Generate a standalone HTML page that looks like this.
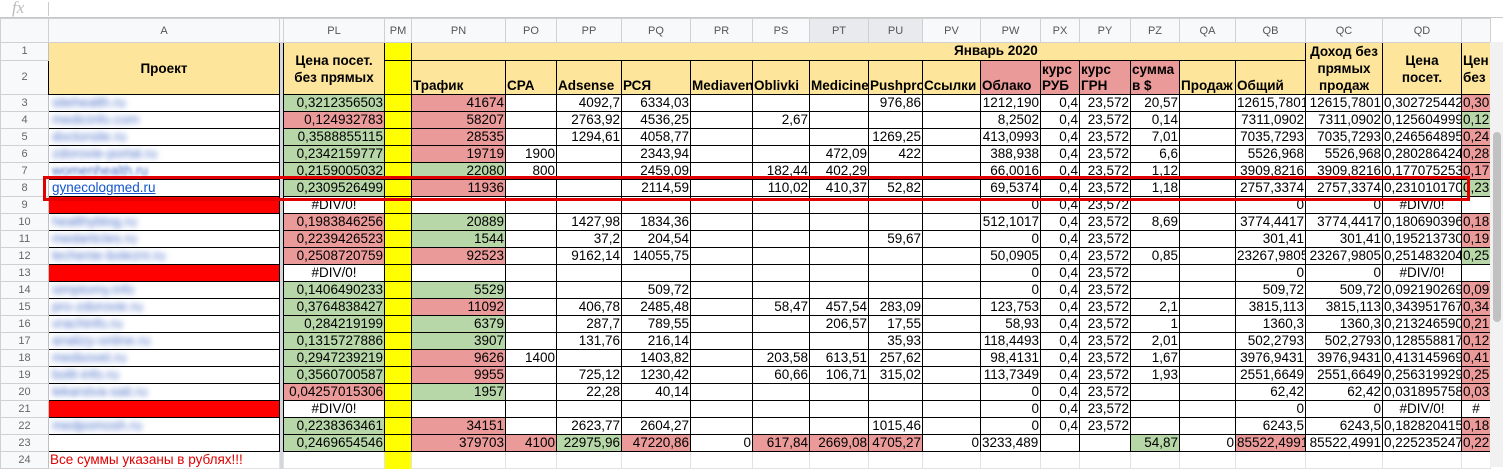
<!DOCTYPE html><html><head><meta charset="utf-8"><style>
body{margin:0;width:1503px;height:467px;overflow:hidden;background:#fff;font-family:"Liberation Sans",Arial,"Noto Sans CJK SC",sans-serif;position:relative}
#fx{position:absolute;left:0;top:0;width:1503px;height:17px;border-bottom:1px solid #c8c8c8}
#fx span{position:absolute;left:12px;top:-2px;font:italic 17px "Liberation Serif",serif;color:#bbb}
#fx i{position:absolute;left:48px;top:2px;width:1px;height:14px;background:#ccc}
table{position:absolute;left:0;top:18px;width:1490px;border-collapse:collapse;table-layout:fixed;font-size:13.5px}
td{padding:0 1px;white-space:nowrap;overflow:hidden;border:1px solid #000;text-align:right;height:16px;line-height:16px}
tr.ch td{background:#f8f9fa;color:#555;font-size:11px;text-align:center;border:1px solid #d0d0d0;height:23px}
td.rh{background:#f8f9fa;color:#666;font-size:11px;text-align:center;border:1px solid #d0d0d0;border-right:1px solid #c0c0c0}
td.dv{background:#d3d6da;border:none;padding:0}
td.y{background:#ffff00}
.h{background:#fde59c;font-weight:bold}
.hl{text-align:left;vertical-align:bottom}
.hc{text-align:center;line-height:17px}
.r{background:#e99a99}.g{background:#b7d7a8}
td.c{text-align:center}
td.a{text-align:left;border-left:none;padding-left:3px}
.bl{color:#4a6fc8;filter:blur(3px)}
.rb{background:#ff0000}
.lk{color:#1155cc;text-decoration:underline;filter:none}
td.e{border:1px solid #e2e2e2}
#box{position:absolute;left:43px;top:176px;width:1421px;height:19px;border:3px solid #e00000}
#sb{position:absolute;left:1490px;top:42px;width:13px;height:425px;background:#f1f1f1}
#sb i{position:absolute;left:3px;top:90px;width:8px;height:190px;background:#c1c1c1;border-radius:4px}
</style></head><body>
<div id="fx"><span>fx</span><i></i></div>
<table>
<colgroup><col style="width:48px"><col style="width:231px"><col style="width:4px"><col style="width:101px"><col style="width:27px"><col style="width:94px"><col style="width:51px"><col style="width:65px"><col style="width:69px"><col style="width:62px"><col style="width:57px"><col style="width:59px"><col style="width:54px"><col style="width:58px"><col style="width:60px"><col style="width:39px"><col style="width:51px"><col style="width:49px"><col style="width:56px"><col style="width:70px"><col style="width:77px"><col style="width:79px"><col style="width:29px"></colgroup>
<tr class="ch"><td></td><td>A</td><td class="dv"></td><td>PL</td><td>PM</td><td>PN</td><td>PO</td><td>PP</td><td>PQ</td><td>PR</td><td>PS</td><td style="background:#e8eaed">PT</td><td style="background:#e8eaed">PU</td><td>PV</td><td>PW</td><td>PX</td><td>PY</td><td>PZ</td><td>QA</td><td>QB</td><td>QC</td><td>QD</td><td></td></tr>
<tr style="height:17px"><td class="rh">1</td><td class="h hc" rowspan="2">Проект</td><td class="dv" rowspan="24"></td><td class="h hc" rowspan="2">Цена посет.<br>без прямых</td><td class="y"></td><td class="h" colspan="15" style="text-align:left;padding-left:542px">Январь 2020</td><td class="h hc" rowspan="2" style="vertical-align:top">Доход без<br>прямых<br>продаж</td><td class="h hc" rowspan="2">Цена<br>посет.</td><td class="h hc" rowspan="2" style="text-align:left">Цен<br>без</td></tr>
<tr style="height:33px"><td class="rh">2</td><td class="y"></td><td class="h hl">Трафик</td><td class="h hl">CPA</td><td class="h hl">Adsense</td><td class="h hl">РСЯ</td><td class="h hl">Mediaven</td><td class="h hl">Oblivki</td><td class="h hl">Medicine</td><td class="h hl">Pushpro</td><td class="h hl">Ссылки</td><td class="h hl r">Облако</td><td class="h hl r" style="line-height:16px">курс<br>РУБ</td><td class="h hl r" style="line-height:16px">курс<br>ГРН</td><td class="h hl r" style="line-height:16px">сумма<br>в $</td><td class="h hl">Продаж</td><td class="h hl">Общий</td></tr>
<tr><td class="rh">3</td><td class="a"><span class="bl">sitehealth.ru</span></td><td class="g">0,3212356503</td><td class="y"></td><td class="r">41674</td><td></td><td>4092,7</td><td>6334,03</td><td></td><td></td><td></td><td>976,86</td><td></td><td>1212,190</td><td>0,4</td><td>23,572</td><td>20,57</td><td></td><td>12615,7801</td><td>12615,7801</td><td>0,302725442</td><td class="r">0,30</td></tr>
<tr><td class="rh">4</td><td class="a"><span class="bl">medicinfo.com</span></td><td class="r">0,124932783</td><td class="y"></td><td class="r">58207</td><td></td><td>2763,92</td><td>4536,25</td><td></td><td>2,67</td><td></td><td></td><td></td><td>8,2502</td><td>0,4</td><td>23,572</td><td>0,14</td><td></td><td>7311,0902</td><td>7311,0902</td><td>0,125604999</td><td class="g">0,12</td></tr>
<tr><td class="rh">5</td><td class="a"><span class="bl">doctorsite.ru</span></td><td class="g">0,3588855115</td><td class="y"></td><td class="r">28535</td><td></td><td>1294,61</td><td>4058,77</td><td></td><td></td><td></td><td>1269,25</td><td></td><td>413,0993</td><td>0,4</td><td>23,572</td><td>7,01</td><td></td><td>7035,7293</td><td>7035,7293</td><td>0,246564895</td><td class="r">0,24</td></tr>
<tr><td class="rh">6</td><td class="a"><span class="bl">zdorovie-portal.ru</span></td><td class="g">0,2342159777</td><td class="y"></td><td class="r">19719</td><td>1900</td><td></td><td>2343,94</td><td></td><td></td><td>472,09</td><td>422</td><td></td><td>388,938</td><td>0,4</td><td>23,572</td><td>6,6</td><td></td><td>5526,968</td><td>5526,968</td><td>0,280286424</td><td class="r">0,28</td></tr>
<tr><td class="rh">7</td><td class="a"><span class="bl" style="filter:blur(1.5px)">womenhealth.ru</span></td><td class="g">0,2159005032</td><td class="y"></td><td class="g">22080</td><td>800</td><td></td><td>2459,09</td><td></td><td>182,44</td><td>402,29</td><td></td><td></td><td>66,0016</td><td>0,4</td><td>23,572</td><td>1,12</td><td></td><td>3909,8216</td><td>3909,8216</td><td>0,177075253</td><td class="r">0,17</td></tr>
<tr><td class="rh">8</td><td class="a"><span class="lk">gynecologmed.ru</span></td><td class="g">0,2309526499</td><td class="y"></td><td class="r">11936</td><td></td><td></td><td>2114,59</td><td></td><td>110,02</td><td>410,37</td><td>52,82</td><td></td><td>69,5374</td><td>0,4</td><td>23,572</td><td>1,18</td><td></td><td>2757,3374</td><td>2757,3374</td><td>0,231010170</td><td class="g">0,23</td></tr>
<tr><td class="rh">9</td><td class="a rb"></td><td class="c">#DIV/0!</td><td class="y"></td><td></td><td></td><td></td><td></td><td></td><td></td><td></td><td></td><td></td><td>0</td><td>0,4</td><td>23,572</td><td></td><td></td><td>0</td><td>0</td><td class="c">#DIV/0!</td><td></td></tr>
<tr><td class="rh">10</td><td class="a"><span class="bl">healthyblog.ru</span></td><td class="r">0,1983846256</td><td class="y"></td><td class="g">20889</td><td></td><td>1427,98</td><td>1834,36</td><td></td><td></td><td></td><td></td><td></td><td>512,1017</td><td>0,4</td><td>23,572</td><td>8,69</td><td></td><td>3774,4417</td><td>3774,4417</td><td>0,180690396</td><td class="r">0,18</td></tr>
<tr><td class="rh">11</td><td class="a"><span class="bl">medarticles.ru</span></td><td class="r">0,2239426523</td><td class="y"></td><td class="g">1544</td><td></td><td>37,2</td><td>204,54</td><td></td><td></td><td></td><td>59,67</td><td></td><td>0</td><td>0,4</td><td>23,572</td><td></td><td></td><td>301,41</td><td>301,41</td><td>0,195213730</td><td class="r">0,19</td></tr>
<tr><td class="rh">12</td><td class="a"><span class="bl">lechenie-bolezni.ru</span></td><td class="r">0,2508720759</td><td class="y"></td><td class="r">92523</td><td></td><td>9162,14</td><td>14055,75</td><td></td><td></td><td></td><td></td><td></td><td>50,0905</td><td>0,4</td><td>23,572</td><td>0,85</td><td></td><td>23267,9805</td><td>23267,9805</td><td>0,251483204</td><td class="g">0,25</td></tr>
<tr><td class="rh">13</td><td class="a rb"></td><td class="c">#DIV/0!</td><td class="y"></td><td></td><td></td><td></td><td></td><td></td><td></td><td></td><td></td><td></td><td>0</td><td>0,4</td><td>23,572</td><td></td><td></td><td>0</td><td>0</td><td class="c">#DIV/0!</td><td></td></tr>
<tr><td class="rh">14</td><td class="a"><span class="bl">simptomy.info</span></td><td class="g">0,1406490233</td><td class="y"></td><td class="g">5529</td><td></td><td></td><td>509,72</td><td></td><td></td><td></td><td></td><td></td><td>0</td><td>0,4</td><td>23,572</td><td></td><td></td><td>509,72</td><td>509,72</td><td>0,092190269</td><td class="r">0,092</td></tr>
<tr><td class="rh">15</td><td class="a"><span class="bl">pro-zdorovie.ru</span></td><td class="g">0,3764838427</td><td class="y"></td><td class="r">11092</td><td></td><td>406,78</td><td>2485,48</td><td></td><td>58,47</td><td>457,54</td><td>283,09</td><td></td><td>123,753</td><td>0,4</td><td>23,572</td><td>2,1</td><td></td><td>3815,113</td><td>3815,113</td><td>0,343951767</td><td class="r">0,34</td></tr>
<tr><td class="rh">16</td><td class="a"><span class="bl">vrachinfo.ru</span></td><td class="g">0,284219199</td><td class="y"></td><td class="g">6379</td><td></td><td>287,7</td><td>789,55</td><td></td><td></td><td>206,57</td><td>17,55</td><td></td><td>58,93</td><td>0,4</td><td>23,572</td><td>1</td><td></td><td>1360,3</td><td>1360,3</td><td>0,213246590</td><td class="r">0,21</td></tr>
<tr><td class="rh">17</td><td class="a"><span class="bl">analizy-online.ru</span></td><td class="g">0,1315727886</td><td class="y"></td><td class="g">3907</td><td></td><td>131,76</td><td>216,14</td><td></td><td></td><td></td><td>35,93</td><td></td><td>118,4493</td><td>0,4</td><td>23,572</td><td>2,01</td><td></td><td>502,2793</td><td>502,2793</td><td>0,128558817</td><td class="r">0,12</td></tr>
<tr><td class="rh">18</td><td class="a"><span class="bl">medsovet.ru</span></td><td class="g">0,2947239219</td><td class="y"></td><td class="r">9626</td><td>1400</td><td></td><td>1403,82</td><td></td><td>203,58</td><td>613,51</td><td>257,62</td><td></td><td>98,4131</td><td>0,4</td><td>23,572</td><td>1,67</td><td></td><td>3976,9431</td><td>3976,9431</td><td>0,413145969</td><td class="r">0,41</td></tr>
<tr><td class="rh">19</td><td class="a"><span class="bl">bolit-info.ru</span></td><td class="g">0,3560700587</td><td class="y"></td><td class="r">9955</td><td></td><td>725,12</td><td>1230,42</td><td></td><td>60,66</td><td>106,71</td><td>315,02</td><td></td><td>113,7349</td><td>0,4</td><td>23,572</td><td>1,93</td><td></td><td>2551,6649</td><td>2551,6649</td><td>0,256319929</td><td class="r">0,25</td></tr>
<tr><td class="rh">20</td><td class="a"><span class="bl">lekarstva-sait.ru</span></td><td class="r">0,04257015306</td><td class="y"></td><td class="g">1957</td><td></td><td>22,28</td><td>40,14</td><td></td><td></td><td></td><td></td><td></td><td>0</td><td>0,4</td><td>23,572</td><td></td><td></td><td>62,42</td><td>62,42</td><td>0,031895758</td><td class="r">0,03</td></tr>
<tr><td class="rh">21</td><td class="a rb"></td><td class="c">#DIV/0!</td><td class="y"></td><td></td><td></td><td></td><td></td><td></td><td></td><td></td><td></td><td></td><td>0</td><td>0,4</td><td>23,572</td><td></td><td></td><td>0</td><td>0</td><td class="c">#DIV/0!</td><td class="c">#</td></tr>
<tr><td class="rh">22</td><td class="a"><span class="bl">medpomosh.ru</span></td><td class="g">0,2238363461</td><td class="y"></td><td class="r">34151</td><td></td><td>2623,77</td><td>2604,27</td><td></td><td></td><td></td><td>1015,46</td><td></td><td>0</td><td>0,4</td><td>23,572</td><td></td><td></td><td>6243,5</td><td>6243,5</td><td>0,182820415</td><td class="r">0,18</td></tr>
<tr><td class="rh">23</td><td class="a"></td><td class="g">0,2469654546</td><td class="y"></td><td class="r">379703</td><td class="r">4100</td><td class="g">22975,96</td><td class="r">47220,86</td><td>0</td><td class="r">617,84</td><td class="r">2669,08</td><td class="r">4705,27</td><td>0</td><td style="text-align:left">3233,489</td><td></td><td></td><td class="g">54,87</td><td>0</td><td class="r">85522,4991</td><td>85522,4991</td><td>0,225235247</td><td class="r">0,22</td></tr>
<tr><td class="rh">24</td><td class="e" style="text-align:left;color:#e00000">Все суммы указаны в рублях!!!</td><td class="e"></td><td class="y" style="border:none"></td><td class="e"></td><td class="e"></td><td class="e"></td><td class="e"></td><td class="e"></td><td class="e"></td><td class="e"></td><td class="e"></td><td class="e"></td><td class="e"></td><td class="e"></td><td class="e"></td><td class="e"></td><td class="e"></td><td class="e"></td><td class="e"></td><td class="e"></td><td class="e"></td></tr>
</table>
<div id="box"></div>
<div id="sb"><i></i></div>
</body></html>
